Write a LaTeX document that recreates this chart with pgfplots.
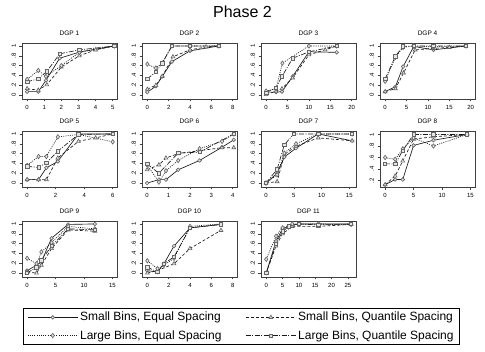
\documentclass[border=0pt]{standalone}
\usepackage{fontspec}
\setmainfont{Liberation Sans}
\usepackage{pgfplots}
\pgfplotsset{compat=1.18}

\pgfplotsset{
  panel/.style={
    width=95pt, height=56pt, scale only axis,
    anchor=north west,
    axis line style={black!75, line width=0.5pt},
    tick style={black!75, line width=0.5pt},
    tick align=outside, major tick length=2.5pt,
    xtick pos=left, ytick pos=left,
    tick label style={font=\fontsize{6}{6.5}\selectfont},
    /pgf/number format/assume math mode=true,
    ymin=-0.08, ymax=1.06,
    ytick={0,0.2,0.4,0.6,0.8,1}, yticklabels={0,.2,.4,.6,.8,1},
    yticklabel style={rotate=90, anchor=south},
    title style={font=\fontsize{6.5}{7}\selectfont, inner sep=1.5pt},
    clip=false,
    legend image code/.code={\draw[mark repeat=2,mark phase=2,#1]
      plot coordinates {(0pt,0pt) (25pt,0pt) (50pt,0pt)};},
  },
  sbe/.style={black!90, line width=0.65pt, mark=*, mark size=1.8pt,
    mark options={solid, draw=black!60, fill=black!10}},
  sbq/.style={black!90, line width=0.65pt, dash pattern=on 3pt off 2pt,
    mark=triangle*, mark size=2.2pt,
    mark options={solid, draw=black!60, fill=black!10}},
  lbe/.style={black!90, line width=0.65pt, dash pattern=on 1pt off 1.2pt,
    mark=diamond*, mark size=2.2pt,
    mark options={solid, draw=black!60, fill=black!10}},
  lbq/.style={black!90, line width=0.65pt,
    dash pattern=on 5pt off 1.5pt on 1pt off 1.5pt,
    mark=square*, mark size=1.7pt,
    mark options={solid, draw=black!60, fill=black!10}},
}

\begin{document}
\begin{tikzpicture}

\node[font=\fontsize{16}{18}\selectfont] at (242.5pt,-12pt) {Phase 2};

% ---- row 1 ----
\begin{axis}[panel, at={(22pt,-43pt)}, title={DGP 1},
  xmin=-0.3, xmax=5.25, xtick={0,1,2,3,4,5}]
\addplot[sbe] coordinates {(0,0.07) (0.65,0.07) (1.1,0.3) (1.9,0.75) (3.1,0.88) (5.1,1.0)};
\addplot[sbq] coordinates {(0,0.13) (0.65,0.1) (1.15,0.21) (2.0,0.57) (3.05,0.8) (4.0,0.92) (5.1,1.0)};
\addplot[lbe] coordinates {(0,0.32) (0.65,0.5) (1.1,0.38) (2.0,0.6) (3.05,0.87) (5.1,1.0)};
\addplot[lbq] coordinates {(0,0.27) (0.65,0.33) (1.15,0.48) (1.9,0.84) (3.05,0.92) (5.1,1.0)};
\end{axis}

\begin{axis}[panel, at={(142pt,-43pt)}, title={DGP 2},
  xmin=-0.5, xmax=8.4, xtick={0,2,4,6,8}]
\addplot[sbe] coordinates {(0,0.06) (0.8,0.18) (1.4,0.38) (2.3,0.68) (4,0.9) (6.7,1)};
\addplot[sbq] coordinates {(0,0.12) (0.8,0.2) (1.4,0.38) (2.4,0.78) (4,0.92) (5.5,0.98) (6.7,1)};
\addplot[lbe] coordinates {(0,0.63) (0.8,0.55) (1.4,0.65) (2.3,1) (4,1) (6.7,1)};
\addplot[lbq] coordinates {(0,0.33) (0.8,0.47) (1.4,0.65) (2.3,1) (4,1) (6.7,1)};
\end{axis}

\begin{axis}[panel, at={(261pt,-43pt)}, title={DGP 3},
  xmin=-1.2, xmax=21, xtick={0,5,10,15,20}]
\addplot[sbe] coordinates {(0,0.06) (2.3,0.06) (3.7,0.07) (6.2,0.38) (10,0.88) (16.5,0.87)};
\addplot[sbq] coordinates {(0,0.01) (2.3,0.08) (3.7,0.13) (6.2,0.35) (10,0.82) (13.8,0.92) (16.5,1)};
\addplot[lbe] coordinates {(0,0.08) (2.3,0.13) (3.8,0.65) (10,1) (16.5,1)};
\addplot[lbq] coordinates {(0,0.05) (2.3,0.15) (3.7,0.38) (6.2,0.75) (10,0.88) (16.5,1)};
\end{axis}

\begin{axis}[panel, at={(380pt,-43pt)}, title={DGP 4},
  xmin=-1.2, xmax=21, xtick={0,5,10,15,20}]
\addplot[sbe] coordinates {(0,0.07) (2.4,0.17) (4.2,0.58) (6.7,0.99) (11.3,0.92) (18.9,1)};
\addplot[sbq] coordinates {(0,0.07) (2.4,0.13) (4.3,0.45) (7,0.92) (11.3,0.95) (15,0.97) (18.9,1)};
\addplot[lbe] coordinates {(0,0.28) (2.4,0.77) (4.2,0.97) (6.7,1) (11.3,0.98) (18.9,1)};
\addplot[lbq] coordinates {(0,0.33) (2.4,0.79) (4.2,0.99) (6.7,1) (11.3,1) (18.9,1)};
\end{axis}

% ---- row 2 ----
\begin{axis}[panel, at={(22pt,-131pt)}, title={DGP 5},
  xmin=-0.36, xmax=6.3, xtick={0,2,4,6}]
\addplot[sbe] coordinates {(0,0.07) (0.8,0.07) (1.35,0.31) (2.15,0.44) (3.6,1.0) (6,1)};
\addplot[sbq] coordinates {(0,0.07) (0.8,0.07) (1.35,0.07) (2.15,0.51) (3.6,0.85) (4.8,0.92) (6,1)};
\addplot[lbe] coordinates {(0,0.36) (0.8,0.54) (1.35,0.54) (2.15,0.94) (3.6,0.99) (6,0.84)};
\addplot[lbq] coordinates {(0,0.34) (0.8,0.32) (1.35,0.41) (2.15,0.65) (3.6,0.99) (6,1)};
\end{axis}

\begin{axis}[panel, at={(142pt,-131pt)}, title={DGP 6},
  xmin=-0.24, xmax=4.2, xtick={0,1,2,3,4}]
\addplot[sbe] coordinates {(0,0) (0.55,0.07) (0.88,0.07) (1.45,0.27) (2.45,0.46) (3.5,0.73) (4.05,0.88)};
\addplot[sbq] coordinates {(0,0.27) (0.55,0.37) (0.88,0.51) (1.45,0.6) (2.45,0.66) (3.5,0.72) (4.05,0.72)};
\addplot[lbe] coordinates {(0,0.37) (0.55,0.02) (0.88,0.25) (1.45,0.46) (2.45,0.7) (3.5,0.85) (4.05,1)};
\addplot[lbq] coordinates {(0,0.39) (0.55,0.2) (1.45,0.61) (2.45,0.63) (4.05,1)};
\end{axis}

\begin{axis}[panel, at={(261pt,-131pt)}, title={DGP 7},
  xmin=-0.9, xmax=16.2, xtick={0,5,10,15}]
\addplot[sbe] coordinates {(0,0) (2.0,0.2) (3.3,0.53) (5.4,0.71) (9.4,1) (15.5,0.86)};
\addplot[sbq] coordinates {(0,0) (2.0,0.03) (3.3,0.58) (5.4,0.75) (9.4,0.92) (15.5,0.86)};
\addplot[lbe] coordinates {(0,0) (2.0,0.17) (3.3,0.61) (5.4,0.8) (9.4,1) (15.5,1)};
\addplot[lbq] coordinates {(0,0) (2.0,0.28) (3.3,0.78) (5.0,1) (9.4,1) (15.5,1)};
\end{axis}

\begin{axis}[panel, at={(380pt,-131pt)}, title={DGP 8},
  xmin=-0.9, xmax=15.8, xtick={0,5,10,15},
  ymin=0.09, ymax=1.06, ytick={0.2,0.4,0.6,0.8,1}, yticklabels={.2,.4,.6,.8,1}]
\addplot[sbe] coordinates {(0,0.13) (1.76,0.22) (3.1,0.22) (5,0.81) (8.5,0.9) (14.4,1)};
\addplot[sbq] coordinates {(0,0.13) (1.76,0.28) (3.1,0.54) (5,0.92) (8.5,0.96) (14.4,1)};
\addplot[lbe] coordinates {(0,0.6) (1.76,0.57) (3.1,0.75) (5,0.94) (8.5,0.8) (14.4,1)};
\addplot[lbq] coordinates {(0,0.49) (1.76,0.49) (3.1,0.72) (5,1) (8.5,1) (14.4,1)};
\end{axis}

% ---- row 3 ----
\begin{axis}[panel, at={(22pt,-221pt)}, title={DGP 9},
  xmin=-0.9, xmax=15.8, xtick={0,5,10,15}]
\addplot[sbe] coordinates {(0,0.05) (1.65,0.16) (2.5,0.23) (4.3,0.71) (7.2,0.99) (11.9,1)};
\addplot[sbq] coordinates {(0,0.02) (1.65,0) (2.5,0.16) (4.3,0.5) (7.2,0.88) (11.9,0.85)};
\addplot[lbe] coordinates {(0,0.3) (1.65,0.19) (2.5,0.43) (4.3,0.62) (7.2,0.95) (11.9,0.9)};
\addplot[lbq] coordinates {(0,0) (1.65,0.12) (2.5,0.26) (4.3,0.55) (7.2,0.9) (11.9,0.88)};
\end{axis}

\begin{axis}[panel, at={(142pt,-221pt)}, title={DGP 10},
  xmin=-0.5, xmax=8.4, xtick={0,2,4,6,8}]
\addplot[sbe] coordinates {(0,0.05) (0.95,0.02) (1.55,0.19) (2.5,0.55) (4,0.92) (6.9,0.99)};
\addplot[sbq] coordinates {(0,0) (0.95,0.05) (2.5,0.19) (4,0.5) (6.9,0.87)};
\addplot[lbe] coordinates {(0,0.25) (0.95,0.09) (1.55,0.16) (2.5,0.3) (4,0.95) (6.9,1)};
\addplot[lbq] coordinates {(0,0.12) (0.95,0.02) (1.55,0.19) (2.5,0.33) (4,0.92) (6.9,0.99)};
\end{axis}

\begin{axis}[panel, at={(261pt,-221pt)}, title={DGP 11},
  xmin=-1.6, xmax=27.5, xtick={0,5,10,15,20,25},
  legend columns=2, legend cell align=left,
  legend style={at={(axis description cs:-0.205,-0.554)}, anchor=north,
    draw=black, line width=0.5pt, font=\fontsize{12}{14}\selectfont,
    row sep=4pt, inner xsep=4pt, inner ysep=2pt,
    /tikz/every even column/.append style={column sep=22pt}}]
\addplot[sbe] coordinates {(0,0) (3,0.65) (5,0.9) (8,0.98) (10,1) (16,1) (26,1)};
\addplot[sbq] coordinates {(0,0) (3,0.55) (5,0.8) (8,0.95) (16,0.95) (26,0.99)};
\addplot[lbe] coordinates {(0,0.28) (3,0.75) (5,0.92) (8,1) (16,1) (26,0.99)};
\addplot[lbq] coordinates {(0,0) (3,0.6) (5,0.85) (7,0.95) (10,1) (16,0.98) (26,1)};
\legend{{Small Bins, Equal Spacing}, {Small Bins, Quantile Spacing},
  {Large Bins, Equal Spacing}, {Large Bins, Quantile Spacing}}
\end{axis}

\pgfresetboundingbox
\useasboundingbox (0,0) rectangle (485pt,-352pt);
\end{tikzpicture}
\end{document}
